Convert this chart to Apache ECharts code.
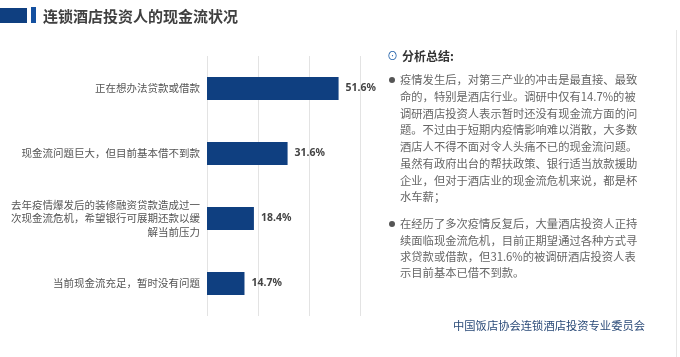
<!DOCTYPE html>
<html>
<head>
<meta charset="utf-8">
<script src="https://cdn.jsdelivr.net/npm/echarts@6/dist/echarts.min.js"></script>
<style>
html,body{margin:0;padding:0;background:#fff;}
#c{width:680px;height:357px;}
</style>
</head>
<body>
<div id="c"></div>
<script>
const title = '连锁酒店投资人的现金流状况';
const categories = [
  '正在想办法贷款或借款',
  '现金流问题巨大，但目前基本借不到款',
  '去年疫情爆发后的装修融资贷款造成过一\n次现金流危机，希望银行可展期还款以缓\n解当前压力',
  '当前现金流充足，暂时没有问题'
];
const values = [51.6, 31.6, 18.4, 14.7];
const axisMin = 0, axisMax = 60, axisStep = 20;
const summaryHeading = '分析总结:';
const para1 = [
  '疫情发生后，对第三产业的冲击是最直接、最致',
  '命的，特别是酒店行业。调研中仅有14.7%的被',
  '调研酒店投资人表示暂时还没有现金流方面的问',
  '题。不过由于短期内疫情影响难以消散，大多数',
  '酒店人不得不面对令人头痛不已的现金流问题。',
  '虽然有政府出台的帮扶政策、银行适当放款援助',
  '企业，但对于酒店业的现金流危机来说，都是杯',
  '水车薪；'
];
const para2 = [
  '在经历了多次疫情反复后，大量酒店投资人正持',
  '续面临现金流危机，目前正期望通过各种方式寻',
  '求贷款或借款，但31.6%的被调研酒店投资人表',
  '示目前基本已借不到款。'
];
const source = '中国饭店协会连锁酒店投资专业委员会';

const FONT = '"Noto Sans CJK SC", "Noto Sans", sans-serif';
const chart = echarts.init(document.getElementById('c'), null, {renderer: 'canvas'});
chart.setOption({
  animation: false,
  backgroundColor: '#ffffff',
  textStyle: {fontFamily: FONT},
  grid: {left: 207, right: 320, top: 56, bottom: 41, containLabel: false},
  xAxis: {
    type: 'value', min: axisMin, max: axisMax, interval: axisStep,
    axisLabel: {show: false}, axisLine: {show: false}, axisTick: {show: false},
    splitLine: {show: true, lineStyle: {color: '#e3e3e3', width: 1}}
  },
  yAxis: {
    type: 'category', inverse: true, data: categories,
    axisLine: {show: false}, axisTick: {show: false},
    axisLabel: {color: '#555555', fontSize: 10.5, lineHeight: 13.5, margin: 7, align: 'right', fontFamily: FONT}
  },
  series: [{
    type: 'bar', data: values, barWidth: 23,
    itemStyle: {color: '#0f3f80'},
    label: {show: true, position: 'right', distance: 7, formatter: p => p.value.toFixed(1) + '%',
      color: '#444444', fontSize: 10.5, fontWeight: 'bold', fontFamily: '"Noto Sans", sans-serif'}
  }],
  graphic: [
    {type: 'rect', shape: {x: 0, y: 8, width: 27, height: 15}, style: {fill: '#0f3f80'}},
    {type: 'rect', shape: {x: 31, y: 7, width: 5, height: 16}, style: {fill: '#1450a0'}},
    {type: 'text', x: 43, y: 16, style: {text: title, font: 'bold 15px ' + FONT, fill: '#404040', textVerticalAlign: 'middle'}},
    {type: 'line', shape: {x1: 676.5, y1: 30, x2: 676.5, y2: 357}, style: {stroke: '#e6e6e6', lineWidth: 1}},
    {type: 'text', x: 387, y: 56, style: {text: '⊙', font: '11px ' + FONT, fill: '#1f5fa8', textVerticalAlign: 'middle'}},
    {type: 'text', x: 402, y: 56, style: {text: summaryHeading, font: 'bold 12px ' + FONT, fill: '#333333', textVerticalAlign: 'middle'}},
    {type: 'circle', shape: {cx: 392, cy: 80, r: 3}, style: {fill: '#555555'}},
    {type: 'text', x: 400, y: 71.75, style: {text: para1.join('\n'), font: '11.3px ' + FONT, lineHeight: 16.7, fill: '#666666'}},
    {type: 'circle', shape: {cx: 392, cy: 224, r: 3}, style: {fill: '#555555'}},
    {type: 'text', x: 400, y: 215.75, style: {text: para2.join('\n'), font: '11.3px ' + FONT, lineHeight: 16.4, fill: '#666666'}},
    {type: 'text', x: 453, y: 326, style: {text: source, font: '11.3px ' + FONT, fill: '#2a4a78', textVerticalAlign: 'middle'}}
  ]
});
</script>
</body>
</html>
